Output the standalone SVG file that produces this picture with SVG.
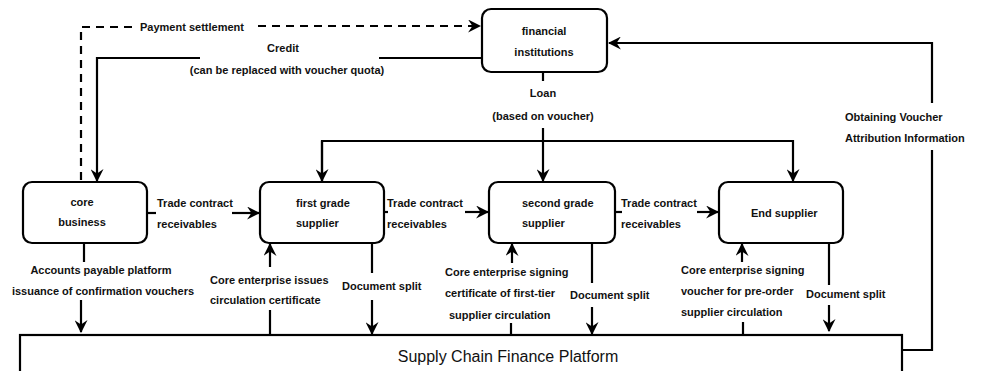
<svg xmlns="http://www.w3.org/2000/svg" width="985" height="371" viewBox="0 0 985 371">
<defs>
<marker id="ah" viewBox="0 0 12 12" refX="11" refY="6" markerWidth="13" markerHeight="13" markerUnits="userSpaceOnUse" orient="auto">
<path d="M0,0 L12,6 L0,12 L4,6 z" fill="#000"/>
</marker>
<style>
.box{fill:#fff;stroke:#000;stroke-width:2.2}
.ln{fill:none;stroke:#000;stroke-width:2.2}
.dash{fill:none;stroke:#000;stroke-width:2.2;stroke-dasharray:8 6}
.t{font-family:"Liberation Sans",Arial,sans-serif;font-size:11px;font-weight:bold;fill:#111}
.c{text-anchor:middle}
.big{font-family:"Liberation Sans",Arial,sans-serif;font-size:16px;fill:#111;text-anchor:middle}
</style>
</defs>
<rect width="985" height="371" fill="#fff"/>

<g id="connectors">
<path class="dash" d="M81,180 V27 H137"/>
<path class="dash" d="M258,26 H480" marker-end="url(#ah)"/>
<path class="ln" d="M482,58 H379"/>
<path class="ln" d="M200,58 H97 V181" marker-end="url(#ah)"/>
<path class="ln" d="M543,72 V81"/>
<path class="ln" d="M543,128 V181" marker-end="url(#ah)"/>
<path class="ln" d="M322,181 V141 H793 V181" marker-end="url(#ah)"/>
<path class="ln" d="M322,141 V181" marker-end="url(#ah)"/>
<path class="ln" d="M902,350 H932 V150"/>
<path class="ln" d="M932,103 V43 H609" marker-end="url(#ah)"/>
<path class="ln" d="M147,213 H156"/>
<path class="ln" d="M232,213 H259" marker-end="url(#ah)"/>
<path class="ln" d="M384,212 H388"/>
<path class="ln" d="M465,212 H488" marker-end="url(#ah)"/>
<path class="ln" d="M615,212 H622"/>
<path class="ln" d="M697,212 H718" marker-end="url(#ah)"/>
<path class="ln" d="M84,243 V262"/>
<path class="ln" d="M81,300 V332" marker-end="url(#ah)"/>
<path class="ln" d="M270,267 V244" marker-end="url(#ah)"/>
<path class="ln" d="M270,310 V335"/>
<path class="ln" d="M372,243 V273"/>
<path class="ln" d="M372,300 V334" marker-end="url(#ah)"/>
<path class="ln" d="M512,263 V244" marker-end="url(#ah)"/>
<path class="ln" d="M511,323 V335"/>
<path class="ln" d="M592,243 V283"/>
<path class="ln" d="M592,307 V334" marker-end="url(#ah)"/>
<path class="ln" d="M742,262 V244" marker-end="url(#ah)"/>
<path class="ln" d="M743,322 V335"/>
<path class="ln" d="M829,243 V285"/>
<path class="ln" d="M829,305 V331" marker-end="url(#ah)"/>
</g>

<g id="labels">
<text class="t" x="140" y="31">Payment  settlement</text>
<text class="t c" x="283" y="52">Credit</text>
<text class="t c" x="287" y="74">(can be replaced with voucher quota)</text>
<text class="t c" x="543" y="97">Loan</text>
<text class="t c" x="543" y="120">(based on voucher)</text>
<text class="t" x="845" y="121">Obtaining Voucher</text>
<text class="t" x="845" y="142">Attribution Information</text>
<text class="t" x="157" y="207">Trade contract</text>
<text class="t" x="157" y="228">receivables</text>
<text class="t" x="387" y="207">Trade contract</text>
<text class="t" x="387" y="228">receivables</text>
<text class="t" x="621" y="207">Trade contract</text>
<text class="t" x="621" y="228">receivables</text>
<text class="t c" x="101" y="274">Accounts payable platform</text>
<text class="t c" x="103" y="295">issuance of confirmation vouchers</text>
<text class="t" x="210" y="284">Core enterprise issues</text>
<text class="t" x="210" y="304">circulation certificate</text>
<text class="t" x="342" y="290">Document split</text>
<text class="t" x="445" y="276">Core enterprise signing</text>
<text class="t" x="445" y="297">certificate of first-tier</text>
<text class="t" x="449" y="319">supplier circulation</text>
<text class="t" x="570" y="299">Document split</text>
<text class="t" x="681" y="274">Core enterprise signing</text>
<text class="t" x="681" y="295">voucher for pre-order</text>
<text class="t" x="681" y="316">supplier circulation</text>
<text class="t" x="806" y="298">Document split</text>
</g>

<g id="financial-institutions">
<rect class="box" x="482" y="9" width="125" height="63" rx="9"/>
<text class="t c" x="544" y="35">financial</text>
<text class="t c" x="544" y="56">institutions</text>
</g>
<g id="core-business">
<rect class="box" x="23" y="182" width="124" height="61" rx="9"/>
<text class="t c" x="82" y="206">core</text>
<text class="t c" x="82" y="226">business</text>
</g>
<g id="first-grade-supplier">
<rect class="box" x="260" y="182" width="124" height="61" rx="9"/>
<text class="t" x="296" y="207">first grade</text>
<text class="t" x="296" y="227">supplier</text>
</g>
<g id="second-grade-supplier">
<rect class="box" x="489" y="182" width="126" height="61" rx="9"/>
<text class="t" x="522" y="207">second grade</text>
<text class="t" x="522" y="227">supplier</text>
</g>
<g id="end-supplier">
<rect class="box" x="719" y="182" width="124" height="61" rx="9"/>
<text class="t" x="751" y="217">End supplier</text>
</g>
<g id="supply-chain-finance-platform">
<rect class="box" x="20" y="335" width="882" height="60"/>
<text class="big" x="508" y="362">Supply Chain Finance Platform</text>
</g>
</svg>
